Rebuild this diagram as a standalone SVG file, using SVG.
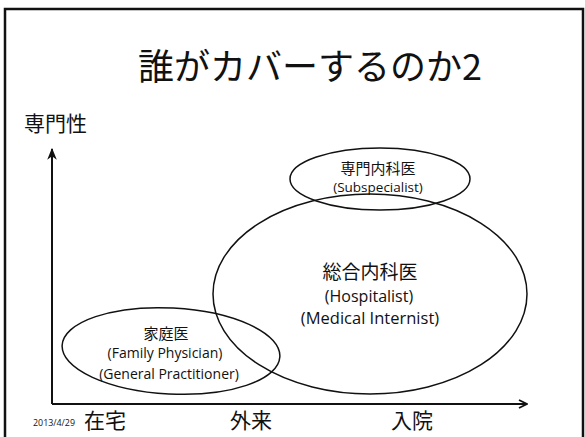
<svg xmlns="http://www.w3.org/2000/svg" width="585" height="437" viewBox="0 0 585 437">
<style>
.jp{font-family:"Noto Sans CJK JP","Noto Sans",sans-serif;fill:#111}
.en{font-family:"Open Sans","Noto Sans",sans-serif;fill:#111}
.el{fill:none;stroke:#111;stroke-width:1.5}
.ax{fill:none;stroke:#111;stroke-width:2}
</style>
<defs>
<marker id="ah" viewBox="0 0 10 10" refX="9" refY="5" markerWidth="10" markerHeight="10" markerUnits="userSpaceOnUse" orient="auto">
<path d="M1,1 L9,5 L1,9" fill="none" stroke="#111" stroke-width="1.8"/>
</marker>
<marker id="ahf" viewBox="0 0 10 10" refX="9" refY="5" markerWidth="12" markerHeight="12" markerUnits="userSpaceOnUse" orient="auto">
<path d="M0,1 L10,5 L0,9 L3,5 Z" fill="#111"/>
</marker>
</defs>
<rect width="585" height="437" fill="#fff"/>
<path d="M5,440 V9 H583 V440" fill="none" stroke="#111" stroke-width="2.5"/>
<text class="jp" x="310" y="80" font-size="36" text-anchor="middle">誰がカバーするのか2</text>
<text class="jp" x="24" y="131" font-size="21">専門性</text>
<g id="connectors">
<line class="ax" x1="52" y1="404" x2="52" y2="149" marker-end="url(#ahf)"/>
<line class="ax" x1="52" y1="404" x2="527" y2="404" marker-end="url(#ah)"/>
</g>
<g id="general">
<ellipse class="el" cx="370" cy="294" rx="157" ry="100"/>
<text class="jp" x="370" y="279" font-size="19" text-anchor="middle">総合内科医</text>
<text class="en" x="369" y="302" font-size="16" text-anchor="middle">(Hospitalist)</text>
<text class="en" x="370" y="324" font-size="16.5" text-anchor="middle">(Medical Internist)</text>
</g>
<g id="subspecialist">
<ellipse class="el" cx="380" cy="179" rx="90" ry="31"/>
<text class="jp" x="378" y="174" font-size="15" text-anchor="middle">専門内科医</text>
<text class="en" x="378" y="192" font-size="13.5" text-anchor="middle">(Subspecialist)</text>
</g>
<g id="family">
<ellipse class="el" cx="171" cy="351" rx="109" ry="43" transform="rotate(3 171 351)"/>
<text class="jp" x="166" y="339" font-size="15" text-anchor="middle">家庭医</text>
<text class="en" x="165" y="358" font-size="14" text-anchor="middle">(Family Physician)</text>
<text class="en" x="169" y="379" font-size="14" text-anchor="middle">(General Practitioner)</text>
</g>
<text class="en" x="33" y="426" font-size="9" textLength="42" lengthAdjust="spacingAndGlyphs">2013/4/29</text>
<text class="jp" x="105" y="428" font-size="21" text-anchor="middle">在宅</text>
<text class="jp" x="251" y="428" font-size="21" text-anchor="middle">外来</text>
<text class="jp" x="412" y="428" font-size="21" text-anchor="middle">入院</text>
</svg>
